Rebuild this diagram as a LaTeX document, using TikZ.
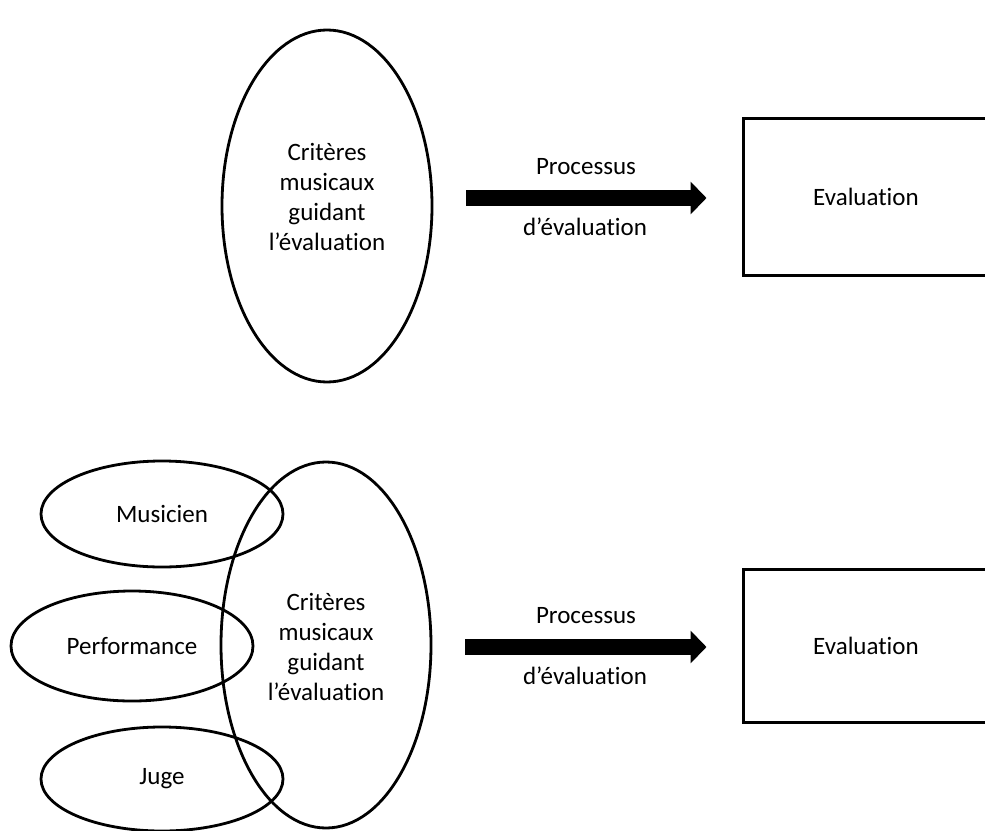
\documentclass[tikz,border=0pt]{standalone}
\usepackage{fontspec}
\setmainfont{Carlito}[Ligatures=NoCommon]
\usetikzlibrary{shapes.geometric,arrows.meta}
\begin{document}
\begin{tikzpicture}[x=1pt,y=-1pt,
  every node/.style={font=\fontsize{25}{30}\selectfont, text=black},
  oval/.style={draw, ellipse, line width=2.8pt, inner sep=0pt},
  outcome/.style={draw, rectangle, line width=3pt, minimum width=246pt, minimum height=157pt},
  process/.style={line width=16pt, -{Triangle[length=16pt, width=32pt]}, shorten <=33pt, shorten >=35pt},
  lbl/.style={inner sep=0pt, align=center}]
\clip (0,0) rectangle (985,830);

% upper model: criteria alone
\node[oval, minimum width=210pt, minimum height=352pt] (crit1) at (327,206) {};
\node[lbl] (crit1txt) at (327,197) {Critères\\musicaux\\guidant\\l’évaluation};
\node[outcome] (eval1) at (866,197) {Evaluation};
\draw[process] (crit1.east |- 0,198) -- (eval1.west |- 0,198);
\node[lbl] (proc1) at (586,167) {Processus};
\node[lbl] (devl1) at (585,227) {d’évaluation};

% lower model: criteria shaped by musician, performance and judge
\node[oval, minimum width=210pt, minimum height=366pt] (crit2) at (326,645) {};
\node[lbl] (crit2txt) at (326,647) {Critères\\musicaux\\guidant\\l’évaluation};
\node[oval, minimum width=242pt, minimum height=106pt] (mus) at (162,514) {Musicien};
\node[oval, minimum width=242pt, minimum height=110pt] (perf) at (132,646) {Performance};
\node[oval, minimum width=242pt, minimum height=104pt] (juge) at (162,779) {Juge};
\node[outcome, minimum height=153pt] (eval2) at (866,645.5) {Evaluation};
\draw[process] (crit2.east |- 0,647) -- (eval2.west |- 0,647);
\node[lbl] (proc2) at (586,616) {Processus};
\node[lbl] (devl2) at (585,676) {d’évaluation};
\end{tikzpicture}
\end{document}
